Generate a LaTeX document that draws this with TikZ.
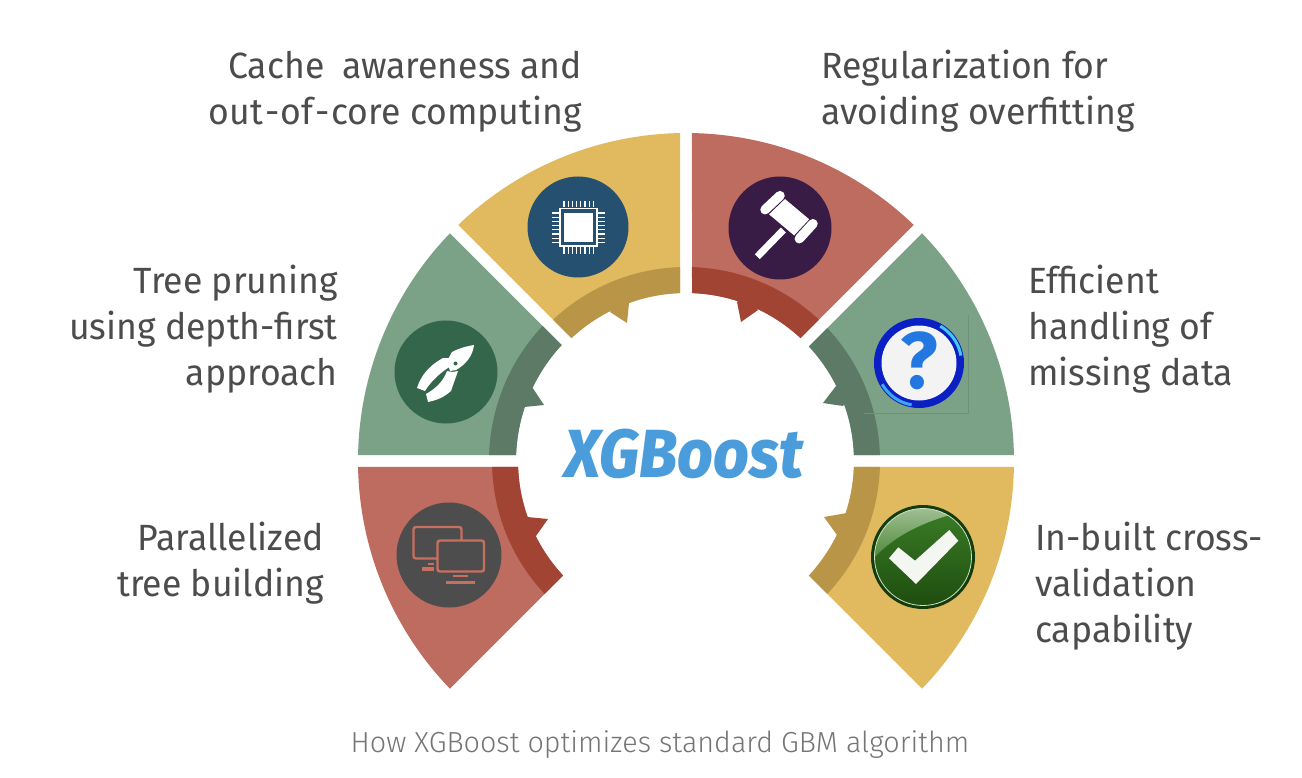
\documentclass[tikz,border=0pt]{standalone}
\usepackage{fontspec}
\setmainfont[FakeStretch=0.975]{Fira Sans}
\newfontfamily\capfont[UprightFont=* Light,FakeStretch=0.99]{Fira Sans}
\newfontfamily\logofont[ItalicFont=* ExtraBold Italic,FakeStretch=0.92]{Fira Sans}
\usetikzlibrary{shadings}
\definecolor{cyel}{HTML}{E1B95F}\definecolor{cyeld}{HTML}{B99647}
\definecolor{cred}{HTML}{BF6C60}\definecolor{credd}{HTML}{A24433}
\definecolor{cgrn}{HTML}{7BA286}\definecolor{cgrnd}{HTML}{5D7A66}
\definecolor{ctxt}{HTML}{4C4C4C}\definecolor{ccap}{HTML}{757575}
\definecolor{clogo}{HTML}{4A9CDB}
\definecolor{cchip}{HTML}{26506F}\definecolor{cplier}{HTML}{33664A}
\definecolor{cgavel}{HTML}{381C46}\definecolor{cmon}{HTML}{4D4D4D}
\definecolor{cframe}{HTML}{6C917A}\definecolor{qring}{HTML}{0A1FC4}
\definecolor{qcyan}{HTML}{45C8F0}\definecolor{qsky}{HTML}{3FA6EE}
\definecolor{qface}{HTML}{F3F3F3}\definecolor{qmarkc}{HTML}{2277E0}
\definecolor{okedge}{HTML}{143D0C}\definecolor{oka}{HTML}{3A7D26}
\definecolor{okhi}{HTML}{B5CDA9}\definecolor{okc}{HTML}{4F8A3C}
\definecolor{okd}{HTML}{1F4D10}
\definecolor{okring}{HTML}{CFE0C8}\definecolor{oktick}{HTML}{F4F6F2}
\definecolor{cmonl}{HTML}{C96F60}
\newcommand{\sectr}[5]{%
  \pgfmathsetmacro{\aOne}{#1+asin(6/#4)}\pgfmathsetmacro{\aTwo}{#2-asin(6/#4)}%
  \pgfmathsetmacro{\bOne}{#1+asin(6/#3)}\pgfmathsetmacro{\bTwo}{#2-asin(6/#3)}%
  \fill[#5] plot[domain=\aOne:\aTwo,samples=70] ({686+#4*cos(\x)},{461+#4*sin(\x)})
    -- plot[domain=\bTwo:\bOne,samples=50] ({686+#3*cos(\x)},{461+#3*sin(\x)}) -- cycle;}
\tikzset{
  label block/.style={font=\fontsize{36.5}{46}\selectfont,text=ctxt,inner sep=0pt},
  icon disc/.style={circle,inner sep=0pt,minimum size=#1},
}
\begin{document}
\begin{tikzpicture}[x=1pt,y=-1pt]
\useasboundingbox (0,0) rectangle (1302,778);
\fill[white] (0,0) rectangle (1302,778);
% sectors
\sectr{180}{225}{170}{328}{cgrn}\sectr{180}{225}{170}{197}{cgrnd}
\sectr{225}{270}{168}{328}{cyel}\sectr{225}{270}{168}{194}{cyeld}
\sectr{270}{315}{168}{328}{cred}\sectr{270}{315}{168}{194}{credd}
\sectr{315}{360}{168}{328}{cgrn}\sectr{315}{360}{168}{194}{cgrnd}
\sectr{0}{45}{168}{328}{cyel}\sectr{0}{45}{168}{194}{cyeld}
\sectr{135}{180}{168}{328}{cred}\sectr{135}{180}{168}{194}{credd}
% teeth
\fill[cyeld] (610,312)--(627,323)--(629,303)--(622,298)--cycle;
\fill[cgrnd] (532,387)--(544,405)--(524,407)--(518,393)--cycle;
\fill[credd] (737,302)--(741,322)--(758,310)--(745,297)--cycle;
\fill[cgrnd] (836,386)--(823,403)--(843,406)--(850,396)--cycle;
\fill[credd] (527,517)--(548,519)--(536,536)--(520,530)--cycle;
\fill[cyeld] (847,513)--(824,517)--(837,535)--(852,528)--cycle;
% chip
\node[icon disc=101pt,fill=cchip] (chip) at (578,227) {};
\draw[white,line width=1.6pt] (560,208.5) rectangle (597,246);
\fill[white] (563.5,213) rectangle (593,242.5);
\foreach \i in {0,...,7}{
  \draw[white,line width=1.3pt] ({564+\i*4.2},201.5)--({564+\i*4.2},207);
  \draw[white,line width=1.3pt] ({564+\i*4.2},247)--({564+\i*4.2},254);
  \draw[white,line width=1.3pt] (552,{213+\i*4.2})--(559,{213+\i*4.2});
  \draw[white,line width=1.3pt] (598,{213+\i*4.2})--(605,{213+\i*4.2});
}
% pliers
\node[icon disc=103pt,fill=cplier] (pliers) at (446,372) {};
\fill[white] (474,345) .. controls (462,347) and (456,350) .. (452,352)
  -- (447,361) -- (450,371) -- (456,370) .. controls (465,365) and (473,356) .. cycle;
\fill[white] (449,358) -- (443,358) .. controls (430,365) and (421,375) .. (417,388)
  -- (425,391) .. controls (431,381) and (441,372) .. (451,366) -- cycle;
\fill[white] (452,372) -- (458,371) -- (451,391) .. controls (443,398) and (437,400) .. (428,402)
  -- (426,394) .. controls (435,389) and (443,382) .. (447,371) -- cycle;
\fill[cplier] (455.5,363.5) circle (2pt);
% gavel
\node[icon disc=103pt,fill=cgavel] (gavel) at (780,228) {};
\draw[white,line width=7pt] (757.3,256.7)--(783.3,230);
\draw[white,line width=22pt] (772.3,202.7)--(806,231);
\draw[cgavel,line width=11.5pt] (763.3,211.7)--(781.7,194);
\draw[cgavel,line width=11.5pt] (797.3,240.7)--(815,221.7);
\draw[white,line width=9.5pt,line cap=round] (765,209.7)--(780,195.7);
\draw[white,line width=9.5pt,line cap=round] (799.3,238.7)--(813,223.7);
% question icon
\draw[cframe,line width=.8pt] (864,413)--(968,413)--(968,315);
\node[icon disc=90pt,fill=qring] (question) at (919,363) {};
\draw[qcyan,line width=3pt] plot[domain=300:350,samples=20] ({919+42.5*cos(\x)},{363+42.5*sin(\x)});
\draw[qsky,line width=3pt] plot[domain=100:150,samples=20] ({919+42.5*cos(\x)},{363+42.5*sin(\x)});
\fill[qface] (919,363) circle (37.5pt);
\node[font=\fontsize{80}{80}\selectfont,text=qmarkc,inner sep=0pt] (qmark) at (919,361) {\bfseries ?};
% check icon
\node[icon disc=104pt,fill=okedge] (check) at (923,557) {};
\shade[shading=axis,shading angle=45,top color=oka,bottom color=okd] (923,557) circle (48.5pt);
\begin{scope}
\clip (923,557) circle (48.5pt);
\shade[shading=axis,shading angle=30,top color=okhi,bottom color=okc]
  (865,495) -- (985,495) -- (950,515) .. controls (925,522) and (895,535) .. (875,557) -- (865,557) -- cycle;
\end{scope}
\draw[okring,line width=.8pt] (923,557) circle (48.5pt);
\fill[oktick] (889,558.3)--(898.3,547.3)--(915,560.7)--(949.3,530)--(958.3,540.7)--(916,584)--cycle;
% monitors
\node[icon disc=105pt,fill=cmon] (monitors) at (449,555) {};
\draw[cmonl,line width=2.4pt,rounded corners=2.5pt] (413.5,527) rectangle (461.5,558.5);
\draw[cmonl,line width=2.4pt,rounded corners=2.5pt,fill=cmon] (437.5,540.5) rectangle (484,571.5);
\draw[cmonl,line width=2.2pt] (453,576.3)--(468,576.3);
\draw[cmonl,line width=3.2pt] (445.5,582.5)--(475,582.5);
\draw[cmonl,line width=2.2pt] (428,564)--(434,564);
\draw[cmonl,line width=3.2pt] (421.5,569)--(433.5,569);
% centre
\node[font=\logofont\itshape\fontsize{68}{68}\selectfont,text=clogo,inner sep=0pt,anchor=base] (logo) at (684,477) {XGBoost};
% labels
\node[label block,anchor=north east,align=right] (cache) at (582,48)
  {\rule{0pt}{30pt}Cache\hspace{8pt} awareness and\\out\kern2pt-\kern1.5pt of\kern1.5pt-\kern2pt core computing};
\node[label block,anchor=north west,align=left] (regul) at (821,48)
  {\rule{0pt}{30pt}Regularization for\\avoiding overfitting};
\node[label block,anchor=north east,align=right] (tree) at (338,263)
  {\rule{0pt}{30pt}Tree pruning\\using depth-first\\approach};
\node[label block,anchor=north west,align=left] (missing) at (1028,263)
  {\rule{0pt}{30pt}Efficient\\handling of\\missing data};
\node[label block,anchor=north east,align=right] (parallel) at (324,520)
  {\rule{0pt}{30pt}Parallelized\\tree building};
\node[label block,anchor=north west,align=left] (cv) at (1035,520)
  {\rule{0pt}{30pt}In-built cross-\\validation\\capability};
\node[font=\capfont\fontsize{29}{29}\selectfont,text=ccap,inner sep=0pt,anchor=base] (caption) at (660,752)
  {How XGBoost optimizes standard GBM algorithm};
\end{tikzpicture}
\end{document}
